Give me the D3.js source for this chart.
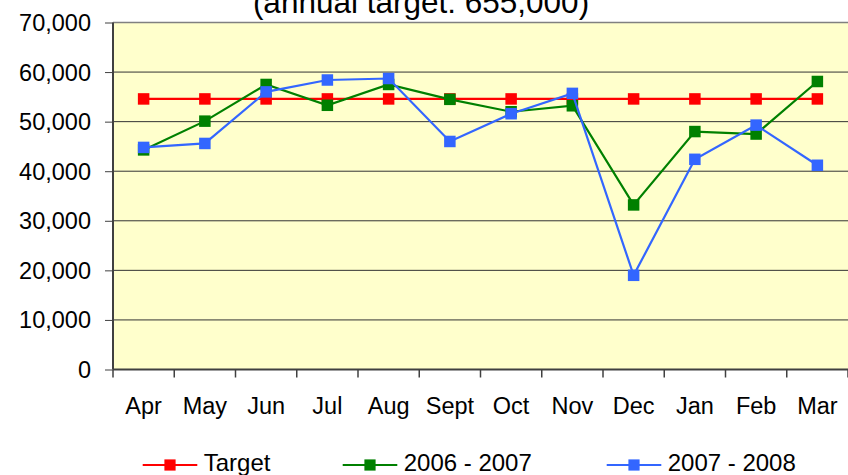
<!DOCTYPE html>
<html>
<head>
<meta charset="utf-8">
<script src="https://cdn.jsdelivr.net/npm/d3@7"></script>
<style>
  html, body { margin: 0; padding: 0; background: #ffffff; }
  svg { display: block; font-family: "Liberation Sans", Arial, sans-serif; }
</style>
</head>
<body>
<svg id="chart" width="848" height="475"></svg>
<script>
const months = ["Apr","May","Jun","Jul","Aug","Sept","Oct","Nov","Dec","Jan","Feb","Mar"];
const target = [54583,54583,54583,54583,54583,54583,54583,54583,54583,54583,54583,54583];
const fy0607 = [44300,50100,57500,53300,57500,54500,52000,53200,33200,48000,47500,58100];
const fy0708 = [44800,45600,56000,58400,58700,46000,51600,55700,19000,42400,49300,41200];
const yTicks = [0,10000,20000,30000,40000,50000,60000,70000];
const seriesNames = ["Target","2006 - 2007","2007 - 2008"];
const seriesColors = ["#FF0000","#008000","#3366FF"];
const titleText = "(annual target: 655,000)";

const series = [target, fy0607, fy0708].map((vals, i) => ({
  name: seriesNames[i], color: seriesColors[i], values: vals
}));

const svg = d3.select("#chart");
const pLeft = 113, pRight = 848, pTop = 22.5, pBottom = 369.5;

const x = d3.scaleBand().domain(months).range([pLeft, pRight]).padding(0);
const y = d3.scaleLinear().domain([0, 70000]).range([pBottom, pTop]);

// plot background
svg.append("rect").attr("x", pLeft).attr("y", pTop)
  .attr("width", pRight - pLeft).attr("height", pBottom - pTop)
  .attr("fill", "#FFFFCC");

// gridlines
svg.append("g").selectAll("line").data(yTicks.filter(d => d > 0)).join("line")
  .attr("x1", pLeft).attr("x2", pRight)
  .attr("y1", d => y(d)).attr("y2", d => y(d))
  .attr("stroke", d => d === 70000 ? "#808080" : "#333333")
  .attr("stroke-width", d => d === 70000 ? 1.5 : 1);

// y axis
const yAxis = d3.axisLeft(y).tickValues(yTicks).tickFormat(d3.format(",")).tickSize(8).tickPadding(14);
const gy = svg.append("g").attr("transform", `translate(${pLeft},0)`).call(yAxis);
gy.select(".domain").remove();
gy.selectAll(".tick line").attr("stroke", "#404040");
gy.selectAll(".tick text").attr("font-size", 23.5).attr("fill", "#000").attr("dy", "0.34em")
  .attr("font-family", "Liberation Sans, Arial, sans-serif");

// x axis ticks at category boundaries
const bounds = months.map(m => x(m)).concat([x.range()[1]]);
svg.append("g").selectAll("line").data(bounds).join("line")
  .attr("x1", d => d).attr("x2", d => d)
  .attr("y1", pBottom).attr("y2", pBottom + 8)
  .attr("stroke", "#404040").attr("stroke-width", 1.5);

// axis lines
svg.append("line").attr("x1", pLeft).attr("x2", pLeft).attr("y1", pTop).attr("y2", pBottom)
  .attr("stroke", "#404040").attr("stroke-width", 2);
svg.append("line").attr("x1", pLeft).attr("x2", pRight).attr("y1", pBottom).attr("y2", pBottom)
  .attr("stroke", "#404040").attr("stroke-width", 2);

// x labels
svg.append("g").selectAll("text").data(months).join("text")
  .attr("x", d => x(d) + x.bandwidth() / 2).attr("y", 414)
  .attr("text-anchor", "middle").attr("font-size", 23.5).attr("fill", "#000")
  .text(d => d);

// series
const line = d3.line().x((d, i) => x(months[i]) + x.bandwidth() / 2).y(d => y(d));
const ms = 11.5;
series.forEach(s => {
  const g = svg.append("g");
  g.append("path").datum(s.values).attr("d", line)
    .attr("fill", "none").attr("stroke", s.color).attr("stroke-width", 2.2);
  g.selectAll("rect").data(s.values).join("rect")
    .attr("x", (d, i) => x(months[i]) + x.bandwidth() / 2 - ms / 2)
    .attr("y", d => y(d) - ms / 2)
    .attr("width", ms).attr("height", ms).attr("fill", s.color);
});

// title
svg.append("text").attr("x", 421).attr("y", 12.5).attr("text-anchor", "middle")
  .attr("font-size", 31.5).attr("fill", "#000").text(titleText);

// legend
const legendX = [142.7, 342.7, 606.7];
const lg = svg.append("g");
series.forEach((s, i) => {
  const lx = legendX[i];
  lg.append("line").attr("x1", lx).attr("x2", lx + 54.6).attr("y1", 465).attr("y2", 465)
    .attr("stroke", s.color).attr("stroke-width", 2);
  lg.append("rect").attr("x", lx + 27.3 - 5.6).attr("y", 465 - 5.6)
    .attr("width", 11.2).attr("height", 11.2).attr("fill", s.color);
  lg.append("text").attr("x", lx + 61).attr("y", 470.5)
    .attr("font-size", 24).attr("fill", "#000").text(s.name);
});
</script>
</body>
</html>
